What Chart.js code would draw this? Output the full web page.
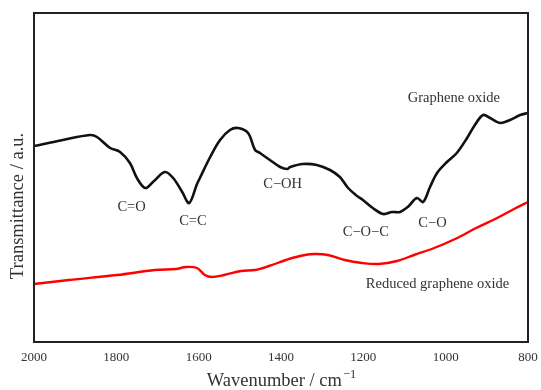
<!DOCTYPE html>
<html>
<head>
<meta charset="utf-8">
<script src="https://cdn.jsdelivr.net/npm/chart.js@4/dist/chart.umd.min.js"></script>
<style>
  html, body { margin: 0; padding: 0; background: #fff; }
  #wrap { width: 541px; height: 390px; }
</style>
</head>
<body>
<div id="wrap"><canvas id="ftir_chart"></canvas></div>
<script>
// wavenumber (cm-1) and transmittance (a.u.)
const go_wavenumber = [2000, 1930, 1864, 1847, 1815, 1791, 1767, 1750, 1730, 1711, 1682, 1662, 1640, 1623, 1604, 1597, 1572, 1548, 1524, 1504, 1480, 1463, 1451, 1427, 1402, 1385, 1378, 1347, 1313, 1281, 1257, 1237, 1215, 1201, 1177, 1152, 1130, 1111, 1092, 1070, 1055, 1038, 1021, 997, 973, 948, 929, 909, 892, 868, 844, 819, 800];
const go_values = [196, 202, 207, 205, 194, 190, 179, 164, 154, 160, 170, 164, 150, 139, 158, 164, 185, 202, 212, 214, 209, 192, 189, 182, 175, 173, 175, 178, 177, 172, 165, 154, 146, 142, 134, 128, 130, 130, 135, 144, 140, 155, 169, 180, 189, 204, 217, 227, 224, 219, 222, 227, 229];

const rgo_wavenumber = [2000, 1915, 1798, 1706, 1655, 1631, 1604, 1585, 1568, 1538, 1497, 1463, 1429, 1388, 1354, 1320, 1286, 1245, 1203, 1162, 1118, 1077, 1028, 977, 926, 875, 834, 800];
const rgo_values = [58, 62, 67, 72, 73, 75, 74, 67, 65, 67, 71, 72, 76, 82, 86, 88, 87, 82, 79, 78, 81, 87, 94, 103, 114, 124, 133, 140];

const x_ticks = [2000, 1800, 1600, 1400, 1200, 1000, 800];

const label_texts = ["Graphene oxide", "C=O", "C=C", "C\u2212OH", "C\u2212O\u2212C", "C\u2212O", "Reduced graphene oxide"];
const label_wavenumber = [980, 1763, 1614, 1396, 1194, 1032, 1020];
const label_values = [244, 135, 121, 158, 110, 119, 58];

const SERIF = "'Liberation Serif', 'DejaVu Serif', serif";

const to_points = (xs, ys) => xs.map((x, i) => ({ x: x, y: ys[i] }));

// frame, annotations and axis titles
const decorations = {
  id: "decorations",
  afterDatasetsDraw(chart) {
    const ctx = chart.ctx;
    const area = chart.chartArea;
    const xs = chart.scales.x;
    const ys = chart.scales.y;
    ctx.save();

    ctx.strokeStyle = "#222";
    ctx.lineWidth = 2;
    ctx.strokeRect(area.left, area.top, area.right - area.left, area.bottom - area.top);

    ctx.fillStyle = "#333";
    ctx.font = "14.5px " + SERIF;
    ctx.textAlign = "center";
    ctx.textBaseline = "middle";
    label_texts.forEach((t, i) => {
      ctx.fillText(t, xs.getPixelForValue(label_wavenumber[i]), ys.getPixelForValue(label_values[i]));
    });

    // x title with superscript
    const main = "Wavenumber / cm";
    const sup = "\u22121";
    ctx.font = "18.5px " + SERIF;
    const w_main = ctx.measureText(main).width;
    ctx.font = "12.5px " + SERIF;
    const w_sup = ctx.measureText(sup).width;
    const cx = (area.left + area.right) / 2;
    const start = cx - (w_main + w_sup) / 2;
    ctx.textAlign = "left";
    ctx.font = "18.5px " + SERIF;
    ctx.fillText(main, start, 381);
    ctx.font = "12.5px " + SERIF;
    ctx.fillText(sup, start + w_main + 1, 375);

    // y title
    ctx.save();
    ctx.translate(18, 206);
    ctx.rotate(-Math.PI / 2);
    ctx.textAlign = "center";
    ctx.font = "18.5px " + SERIF;
    ctx.fillText("Transmittance / a.u.", 0, 0);
    ctx.restore();

    ctx.restore();
  },
};

const chart = new Chart(document.getElementById("ftir_chart"), {
  type: "line",
  data: {
    datasets: [
      {
        label: "Graphene oxide",
        data: to_points(go_wavenumber, go_values),
        borderColor: "#111",
        borderWidth: 2.6,
        tension: 0.35,
        pointRadius: 0,
      },
      {
        label: "Reduced graphene oxide",
        data: to_points(rgo_wavenumber, rgo_values),
        borderColor: "#ff0000",
        borderWidth: 2.4,
        tension: 0.35,
        pointRadius: 0,
      },
    ],
  },
  options: {
    responsive: true,
    maintainAspectRatio: false,
    animation: false,
    layout: { padding: { left: 34, top: 13, right: 13, bottom: 24.7 } },
    plugins: {
      legend: { display: false },
      tooltip: { enabled: false },
    },
    scales: {
      x: {
        type: "linear",
        reverse: true,
        min: 800,
        max: 2000,
        afterBuildTicks: (scale) => {
          scale.ticks = x_ticks.map((v) => ({ value: v }));
        },
        grid: { display: false, drawTicks: true, tickLength: 7.7 },
        border: { display: false },
        ticks: {
          padding: 0,
          color: "#333",
          font: { family: SERIF, size: 13 },
          callback: (v) => String(v),
        },
      },
      y: {
        display: false,
        min: 0,
        max: 329,
      },
    },
  },
  plugins: [decorations],
});
</script>
</body>
</html>
